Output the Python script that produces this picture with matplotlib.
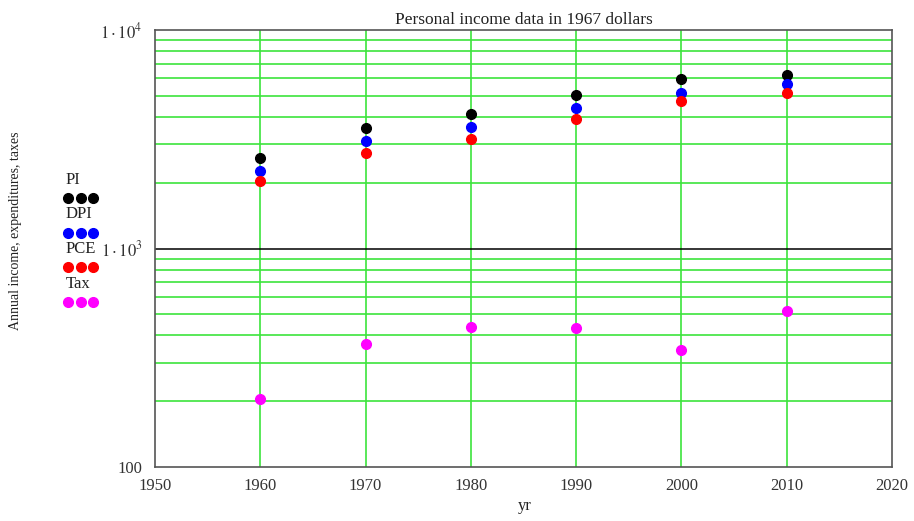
import matplotlib.pyplot as plt
from matplotlib.lines import Line2D
from matplotlib.ticker import FixedLocator, FixedFormatter, NullFormatter

plt.rcParams['font.family'] = ['Liberation Serif', 'DejaVu Serif']
plt.rcParams['mathtext.fontset'] = 'stix'

# data (1967 dollars)
years = [1960, 1970, 1980, 1990, 2000, 2010]
pi = [2600, 3550, 4110, 5020, 5970, 6240]
dpi = [2260, 3110, 3610, 4410, 5130, 5660]
pce = [2040, 2740, 3160, 3910, 4720, 5170]
tax = [205, 365, 437, 433, 343, 517]

series = [("PI", pi, "black"), ("DPI", dpi, "#0000ff"),
          ("PCE", pce, "#ff0000"), ("Tax", tax, "#ff00ff")]

grid_green = "#3ce43c"

fig = plt.figure(figsize=(9.14, 5.21), dpi=100)
ax = fig.add_axes([0.1696, 0.1036, 0.8063, 0.8388])

for name, vals, col in series:
    ax.plot(years, vals, "o", color=col, markersize=7, zorder=3)

ax.set_yscale("log")
ax.set_xlim(1950, 2020)
ax.set_ylim(100, 10000)

# green grid: x decades and log minor lines, black line at 1000
ax.set_xticks([1950, 1960, 1970, 1980, 1990, 2000, 2010, 2020])
for x in [1960, 1970, 1980, 1990, 2000, 2010]:
    ax.axvline(x, color=grid_green, lw=1.2, zorder=1)
for dec in [100, 1000]:
    for k in range(2, 10):
        ax.axhline(dec * k, color=grid_green, lw=1.2, zorder=1)
ax.axhline(1000, color="black", lw=1.1, zorder=2)

ax.yaxis.set_major_locator(FixedLocator([100, 1000, 10000]))
ax.yaxis.set_major_formatter(FixedFormatter(["100", r"$1\cdot10^{3}$", r"$1\cdot10^{4}$"]))
ax.yaxis.set_minor_formatter(NullFormatter())
ax.tick_params(axis="both", which="both", length=0, labelsize=12, colors="#333333")
ax.tick_params(axis="x", pad=8)
ax.tick_params(axis="y", pad=9)

for s in ax.spines.values():
    s.set_color("#555555")
    s.set_linewidth(1.2)

ax.set_title("Personal income data in 1967 dollars", fontsize=12.5, pad=4, color="#222222")
fig.text(0.574, 0.022, "yr", fontsize=12, ha="center", color="#222222")
fig.text(0.017, 0.557, "Annual income, expenditures, taxes", rotation=90,
         ha="center", va="center", fontsize=10, color="#222222")

# legend drawn Mathcad-style: label above a row of three dots
W, H = 914, 521
for i, (name, vals, col) in enumerate(series):
    ty = 180 + i * 34.5
    fig.text(66 / W, 1 - ty / H, name, fontsize=12, va="center", ha="left", color="#222222")
    dy = ty + 18
    fig.add_artist(Line2D([68 / W, 80.5 / W, 93 / W], [1 - dy / H] * 3, ls="none",
                          marker="o", markersize=7, color=col, transform=fig.transFigure))

fig.savefig("out.png", dpi=100)
